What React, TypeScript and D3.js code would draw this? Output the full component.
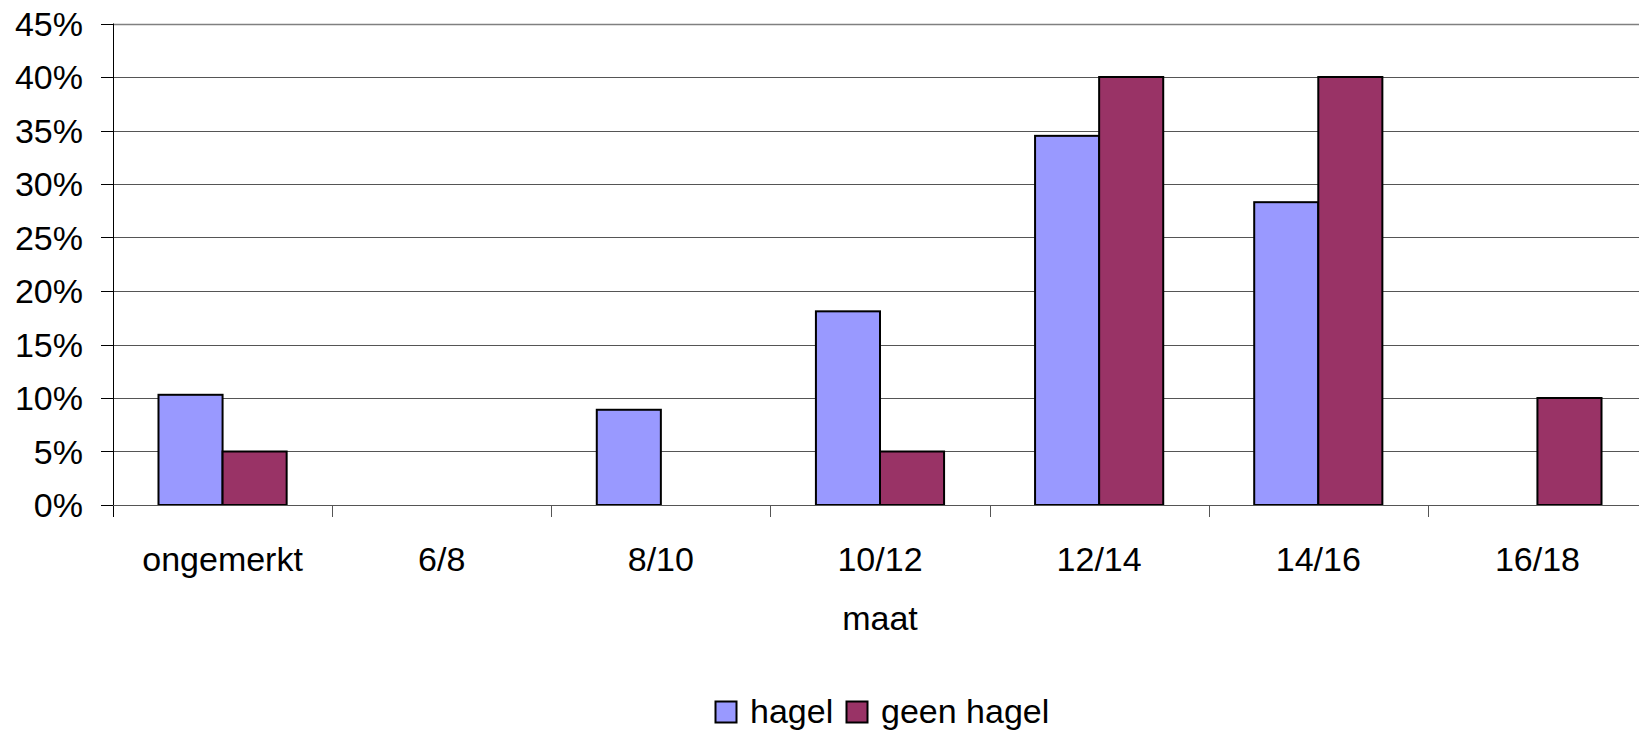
import * as d3 from 'd3'
import React from 'react'

const categories = ['ongemerkt', '6/8', '8/10', '10/12', '12/14', '14/16', '16/18']
const seriesNames = ['hagel', 'geen hagel']
const hagel = [10.3, 0, 8.9, 18.1, 34.5, 28.3, 0]
const geenHagel = [5, 0, 0, 5, 40, 40, 10]
const yTicks = [0, 5, 10, 15, 20, 25, 30, 35, 40, 45]
const colors = ['#9999FF', '#993366']

const W = 1639
const H = 734
const font = '"Liberation Sans", Arial, sans-serif'
const fs = 34

export default function App() {
  const left = 113
  const right = 1647
  const top = 23.5
  const bottom = 505

  const x0 = d3.scaleBand<string>().domain(categories).range([left, right]).paddingInner(0).paddingOuter(0)
  const x1 = d3
    .scaleBand<string>()
    .domain(seriesNames)
    .range([0, x0.bandwidth()])
    .paddingInner(0)
    .paddingOuter(0.71)
  const y = d3.scaleLinear().domain([0, 45]).range([bottom, top])
  const values = [hagel, geenHagel]

  return (
    <svg
      width={W}
      height={H}
      style={{ position: 'absolute', left: 0, top: 0, background: '#fff', overflow: 'hidden' }}
      fontFamily={font}
    >
      <rect width={W} height={H} fill="#fff" />
      {/* gridlines */}
      {yTicks.map(t => (
        <line key={'g' + t} x1={left} x2={W} y1={Math.round(y(t)) + 0.5} y2={Math.round(y(t)) + 0.5} stroke={t === 45 || t === 0 ? '#808080' : '#555'} strokeWidth={t === 45 ? 1.5 : 1} />
      ))}
      {/* bars */}
      {categories.map((c, i) => (
        <g key={c} transform={`translate(${x0(c)},0)`}>
          {seriesNames.map((s, j) =>
            values[j][i] > 0 ? (
              <rect
                key={s}
                x={x1(s)}
                y={y(values[j][i])}
                width={x1.bandwidth()}
                height={bottom - y(values[j][i])}
                fill={colors[j]}
                stroke="#000"
                strokeWidth={2}
              />
            ) : null
          )}
        </g>
      ))}
      {/* y axis */}
      <line x1={left + 0.5} x2={left + 0.5} y1={top} y2={bottom + 12} stroke="#000" strokeWidth={1} />
      <line x1={left} x2={W} y1={bottom + 0.5} y2={bottom + 0.5} stroke="#555" strokeWidth={1.2} />
      {yTicks.map(t => (
        <g key={'t' + t}>
          <line x1={left - 12} x2={left} y1={Math.round(y(t)) + 0.5} y2={Math.round(y(t)) + 0.5} stroke="#000" />
          <text x={83} y={y(t) + 12} textAnchor="end" fontSize={fs} fill="#000">
            {t}%
          </text>
        </g>
      ))}
      {/* x ticks */}
      {categories.slice(1).map(c => (
        <line key={'xt' + c} x1={Math.round(x0(c)!) + 0.5} x2={Math.round(x0(c)!) + 0.5} y1={bottom} y2={bottom + 12} stroke="#555" />
      ))}
      {categories.map(c => (
        <text key={'xl' + c} x={x0(c)! + x0.bandwidth() / 2} y={571} textAnchor="middle" fontSize={fs} fill="#000">
          {c}
        </text>
      ))}
      <text x={(left + right) / 2} y={630} textAnchor="middle" fontSize={fs} fill="#000">
        maat
      </text>
      {/* legend */}
      <g>
        <rect x={715.5} y={701.5} width={21} height={21} fill={colors[0]} stroke="#000" strokeWidth={2} />
        <text x={750} y={723} fontSize={fs} fill="#000">
          {seriesNames[0]}
        </text>
        <rect x={846.5} y={701.5} width={21} height={21} fill={colors[1]} stroke="#000" strokeWidth={2} />
        <text x={881} y={723} fontSize={fs} fill="#000">
          {seriesNames[1]}
        </text>
      </g>
    </svg>
  )
}
